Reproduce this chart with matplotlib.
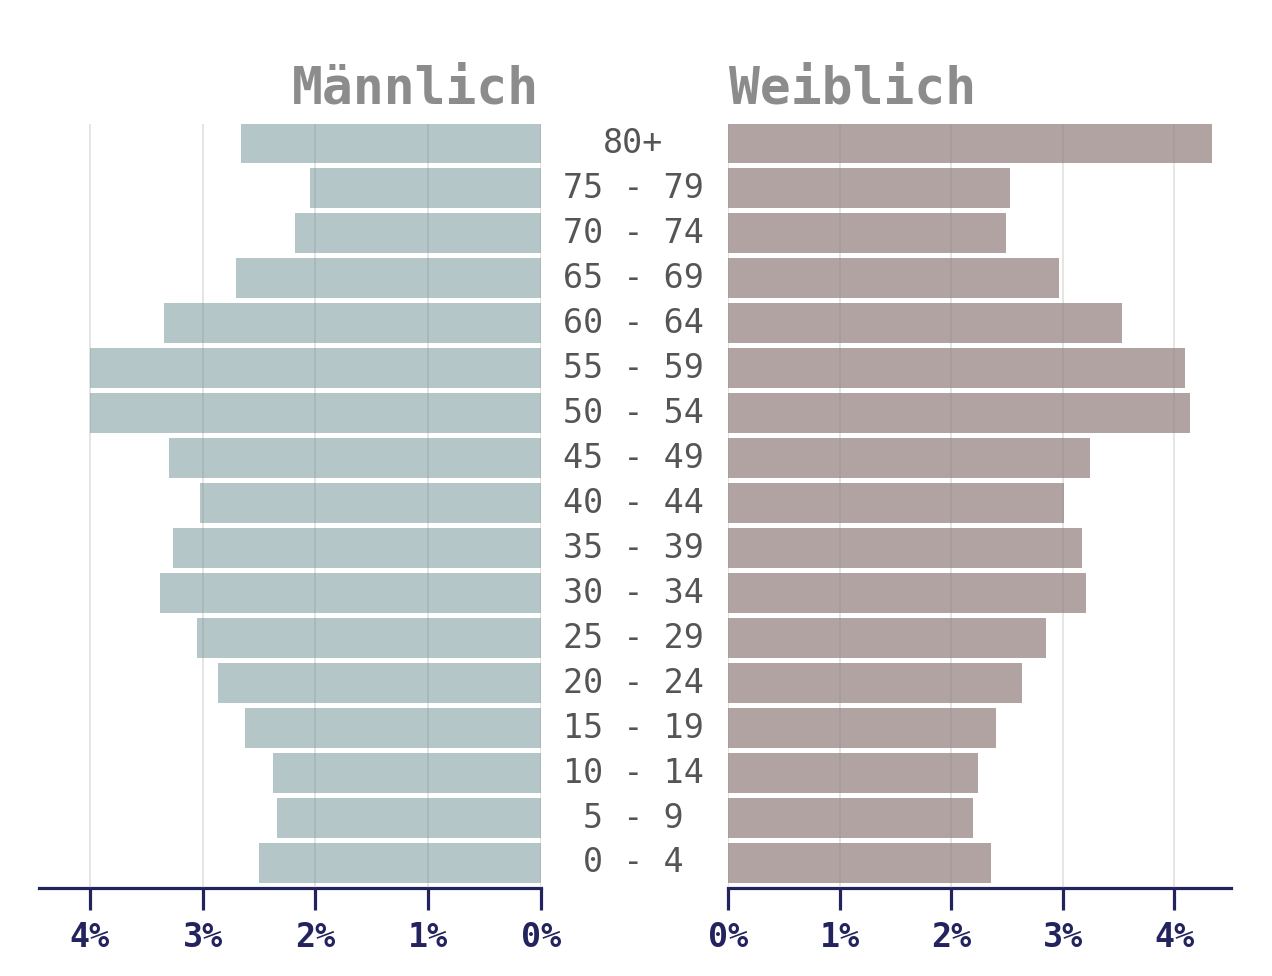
import matplotlib.pyplot as plt
import matplotlib.transforms as mtransforms
import numpy as np

# Age groups, youngest first (bottom to top)
age_groups = ["0 - 4", "5 - 9", "10 - 14", "15 - 19", "20 - 24", "25 - 29",
              "30 - 34", "35 - 39", "40 - 44", "45 - 49", "50 - 54", "55 - 59",
              "60 - 64", "65 - 69", "70 - 74", "75 - 79", "80+"]
male = [2.50, 2.34, 2.38, 2.62, 2.86, 3.05, 3.38, 3.26, 3.02, 3.30,
        4.00, 4.00, 3.34, 2.70, 2.18, 2.05, 2.66]
female = [2.36, 2.20, 2.24, 2.40, 2.64, 2.85, 3.21, 3.17, 3.01, 3.25,
          4.14, 4.10, 3.53, 2.97, 2.49, 2.53, 4.34]
ticks = [0, 1, 2, 3, 4]
tick_labels = ["0%", "1%", "2%", "3%", "4%"]

male_color = "#b4c6c8"
female_color = "#b2a3a3"
axis_color = "#23235e"
mono = "DejaVu Sans Mono"

W, H = 1272, 976
fig = plt.figure(figsize=(W / 100, H / 100), dpi=100)

bottom = 1 - 888 / H
height = (888 - 124) / H
ax_l = fig.add_axes([39 / W, bottom, (541 - 39) / W, height])
ax_r = fig.add_axes([728 / W, bottom, (1231 - 728) / W, height])

y = np.arange(len(age_groups))

ax_l.barh(y, male, height=0.89, color=male_color, zorder=1)
ax_r.barh(y, female, height=0.89, color=female_color, zorder=1)

ax_l.set_xlim(4.45, 0)
ax_r.set_xlim(0, 4.51)

for ax in (ax_l, ax_r):
    ax.set_ylim(-0.556, 16.43)
    ax.set_yticks([])
    ax.set_xticks(ticks)
    ax.set_xticklabels(tick_labels, family=mono, fontweight="bold",
                       fontsize=24, color=axis_color)
    for s in ("top", "left", "right"):
        ax.spines[s].set_visible(False)
    ax.spines["bottom"].set_color(axis_color)
    ax.spines["bottom"].set_linewidth(2.3)
    ax.tick_params(axis="x", direction="out", length=16, width=2.3,
                   color=axis_color, pad=8)
    ax.xaxis.grid(True, color="#808080", alpha=0.22, linewidth=1.3, zorder=2)
    ax.set_axisbelow(False)

# Age labels in the gap between the two halves
trans = mtransforms.blended_transform_factory(fig.transFigure, ax_l.transData)
for yi, label in zip(y, age_groups):
    ax_l.text(633 / W, yi, label, transform=trans, ha="center", va="center",
              family=mono, fontsize=24, color="#555555", clip_on=False)

# Headers
fig.text(539 / W, 1 - 90 / H, "Männlich", ha="right", va="center",
         family=mono, fontweight="bold", fontsize=37, color="#8c8c8c")
fig.text(729 / W, 1 - 90 / H, "Weiblich", ha="left", va="center",
         family=mono, fontweight="bold", fontsize=37, color="#8c8c8c")

fig.savefig("out.png", dpi=100, facecolor="white")
